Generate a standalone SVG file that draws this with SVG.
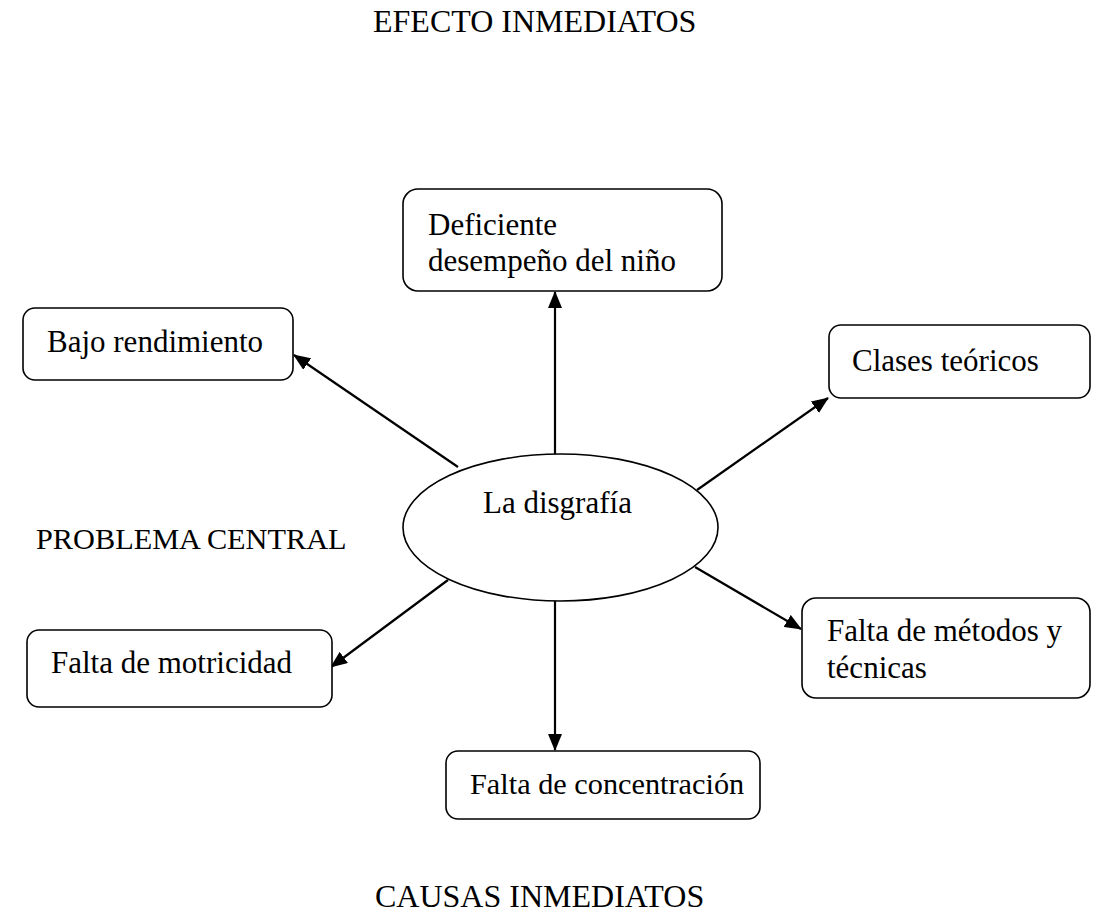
<svg xmlns="http://www.w3.org/2000/svg" width="1097" height="924" viewBox="0 0 1097 924">
<style>
.box{fill:#fff;stroke:#000;stroke-width:1.6}
.t{font-family:"Liberation Serif","Times New Roman",serif;font-size:31px;fill:#000}
.s{font-size:30.3px}
.h{font-size:32px}
.c{stroke:#000;stroke-width:2.2;fill:none}
</style>
<defs>
<marker id="ah" markerUnits="userSpaceOnUse" markerWidth="18" markerHeight="14" refX="16" refY="7" orient="auto">
<path d="M0,0 L17,7 L0,14 z" fill="#000"/>
</marker>
</defs>
<rect width="1097" height="924" fill="#fff"/>
<text class="t h" x="373" y="32">EFECTO INMEDIATOS</text>
<text class="t s" x="36" y="549">PROBLEMA CENTRAL</text>
<text class="t h" x="375" y="907">CAUSAS INMEDIATOS</text>
<g id="connectors">
<line class="c" x1="555" y1="454" x2="555" y2="292" marker-end="url(#ah)"/>
<line class="c" x1="458" y1="467" x2="294" y2="355" marker-end="url(#ah)"/>
<line class="c" x1="697" y1="490" x2="828" y2="398" marker-end="url(#ah)"/>
<line class="c" x1="695" y1="567" x2="801" y2="629" marker-end="url(#ah)"/>
<line class="c" x1="448" y1="580" x2="331" y2="667" marker-end="url(#ah)"/>
<line class="c" x1="555" y1="601" x2="555" y2="750" marker-end="url(#ah)"/>
</g>
<g id="center">
<ellipse class="box" cx="560.5" cy="527.5" rx="157.5" ry="73.5"/>
<text class="t" x="483" y="513">La disgrafía</text>
</g>
<g id="deficiente">
<rect class="box" x="403" y="189" width="319" height="102" rx="15"/>
<text class="t" x="428" y="235">Deficiente</text>
<text class="t" x="428" y="271">desempeño del niño</text>
</g>
<g id="bajo">
<rect class="box" x="23" y="308" width="270" height="72" rx="12"/>
<text class="t" x="47" y="352">Bajo rendimiento</text>
</g>
<g id="clases">
<rect class="box" x="829" y="325" width="261" height="73" rx="12"/>
<text class="t" x="852" y="371">Clases teóricos</text>
</g>
<g id="motricidad">
<rect class="box" x="27" y="630" width="305" height="77" rx="12"/>
<text class="t" x="51" y="673">Falta de motricidad</text>
</g>
<g id="metodos">
<rect class="box" x="802" y="598" width="288" height="100" rx="14"/>
<text class="t" x="827" y="641">Falta de métodos y</text>
<text class="t" x="827" y="678">técnicas</text>
</g>
<g id="concentracion">
<rect class="box" x="446" y="751" width="314" height="68" rx="12"/>
<text class="t s" x="470" y="794">Falta de concentración</text>
</g>
</svg>
